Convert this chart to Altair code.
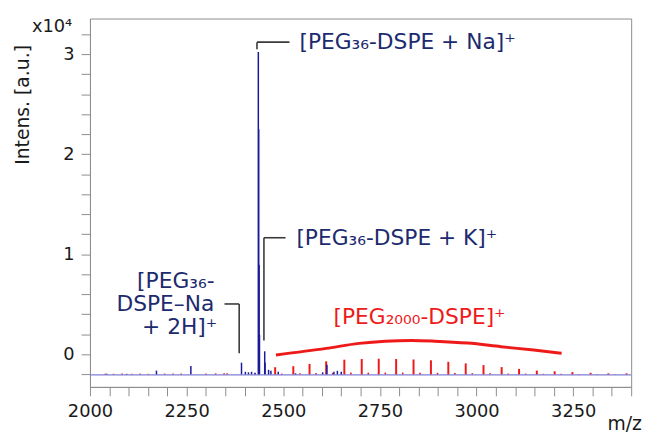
import altair as alt
import pandas as pd

FONT = "DejaVu Sans"
NAVY = "#1c2a6e"
RED = "#ee1a1a"
BLUE = "#1a1a9a"
BASELINE = -0.205

# PEG2000-DSPE distribution (red), m/z and peak height above baseline (x10^4)
red_mz = [2479, 2526, 2568, 2611, 2658, 2703, 2747, 2792, 2837, 2882, 2927,
          2972, 3018, 3065, 3110, 3156, 3202, 3248, 3295, 3341, 3388]
red_h = [0.076, 0.086, 0.109, 0.135, 0.151, 0.158, 0.161, 0.158, 0.153, 0.145, 0.130,
         0.114, 0.097, 0.077, 0.059, 0.042, 0.035, 0.027, 0.020, 0.015, 0.015]
# small satellite peaks of the red series
red_sat_mz = [2496, 2543, 2585, 2628, 2675, 2720, 2764, 2809, 2854, 2899, 2944,
              2989, 3035, 3082, 3127, 3173, 3219, 3265, 3312, 3358]
red_sat_h = [0.012, 0.015, 0.018, 0.020, 0.022, 0.022, 0.022, 0.022, 0.020, 0.020, 0.018,
             0.016, 0.015, 0.013, 0.012, 0.010, 0.010, 0.008, 0.008, 0.006]
red_small_mz = [2040, 2061, 2083, 2108, 2130, 2151, 2193, 2215, 2236, 2300, 2325, 2347, 2355, 2427]
red_small_h = [0.012, 0.010, 0.014, 0.010, 0.012, 0.010, 0.012, 0.014, 0.012, 0.012, 0.014, 0.016, 0.015, 0.012]

# PEG36-DSPE (blue)
blue_mz = [2044, 2095, 2172, 2261, 2392, 2402, 2410, 2418, 2427,
           2435.5, 2436.5, 2437.5, 2438.5, 2452, 2453, 2462, 2468, 2487,
           2532, 2602, 2613, 2631, 2640, 2650]
blue_h = [0.010, 0.010, 0.042, 0.089, 0.121, 0.030, 0.025, 0.030, 0.020,
          3.226, 2.455, 1.100, 0.400, 0.235, 0.120, 0.050, 0.040, 0.030,
          0.015, 0.025, 0.100, 0.030, 0.040, 0.030]

# envelope of the PEG2000 distribution
env_mz = [2481, 2611, 2696, 2764, 2832, 2892, 2977, 3063, 3148, 3220]
env_v = [-0.007, 0.059, 0.109, 0.131, 0.138, 0.131, 0.112, 0.076, 0.042, 0.010]

# annotation brackets
br_x = [2432, 2432, 2450, 2450, 2348, 2386]
br_x2 = [2516, 2432, 2506, 2450, 2386, 2386]
br_y = [3.12, 3.12, 1.165, 1.165, 0.503, 0.503]
br_y2 = [3.12, 3.05, 1.165, 0.138, 0.503, 0.010]

# annotation texts
lab_text = ["[PEG₃₆-DSPE + Na]⁺", "[PEG₃₆-DSPE + K]⁺", "[PEG₃₆-", "DSPE–Na", "+ 2H]⁺"]
lab_mz = [2542, 2534, 2222, 2195, 2232]
lab_v = [3.12, 1.162, 0.733, 0.503, 0.276]
lab_align = ["left", "left", "center", "center", "center"]

red_lab_text = ["[PEG₂₀₀₀-DSPE]⁺"]
red_lab_mz = [2630]
red_lab_v = [0.375]

x_ticks = list(range(2000, 3401, 50))
y_ticks = [-0.2, 0.0, 0.2, 0.4, 0.6, 0.8, 1.0, 1.2, 1.4, 1.6, 1.8, 2.0,
           2.2, 2.4, 2.6, 2.8, 3.0, 3.2]

xs = alt.Scale(domain=[2000, 3400], nice=False, zero=False)
ys = alt.Scale(domain=[-0.326, 3.356], nice=False, zero=False)

x_axis = alt.Axis(values=x_ticks, format="d",
                  labelExpr="datum.value % 250 == 0 ? datum.label : ''",
                  title="m/z", titleX=541, titleY=43, titleAlign="center",
                  titleBaseline="alphabetic", titleFontSize=19, titleFontWeight="normal",
                  labelOverlap=False, labelFlush=False, labelPadding=7)
y_axis = alt.Axis(values=y_ticks,
                  labelExpr="abs(datum.value - round(datum.value)) < 0.001 ? format(datum.value, 'd') : ''",
                  title="Intens. [a.u.]", titleX=-68, titleY=87, titleAngle=-90,
                  titleAlign="center", titleBaseline="middle", titleFontSize=19,
                  titleFontWeight="normal", labelOverlap=False, labelFlush=False,
                  labelPadding=7)


def X(field):
    return alt.X(field, type="quantitative", scale=xs, axis=x_axis)


def Y(field):
    return alt.Y(field, type="quantitative", scale=ys, axis=y_axis)


def peaks(mz, h):
    return pd.DataFrame({"mz": mz, "top": [BASELINE + v for v in h], "base": [BASELINE] * len(mz)})


def stick_layer(df, color, width):
    return alt.Chart(df).mark_rule(color=color, strokeWidth=width).encode(
        x=X("mz"), y=Y("base"), y2="top:Q")


red_layer = stick_layer(peaks(red_mz, red_h), RED, 2.0)
red_sat_layer = stick_layer(peaks(red_sat_mz, red_sat_h), RED, 1.6)
red_small_layer = stick_layer(peaks(red_small_mz, red_small_h), RED, 1.6)
blue_layer = stick_layer(peaks(blue_mz, blue_h), BLUE, 1.5)

base_df = pd.DataFrame({"x": [2000], "x2": [3400], "y": [BASELINE]})
base_layer = alt.Chart(base_df).mark_rule(color="#7f7fd4", strokeWidth=1.2).encode(
    x=X("x"), x2="x2:Q", y=Y("y"))

env_df = pd.DataFrame({"mz": env_mz, "v": env_v})
env_layer = alt.Chart(env_df).mark_line(color=RED, strokeWidth=3, interpolate="monotone").encode(
    x=X("mz"), y=Y("v"))

br_df = pd.DataFrame({"x": br_x, "x2": br_x2, "y": br_y, "y2": br_y2})
br_layer = alt.Chart(br_df).mark_rule(color="#3a3a3a", strokeWidth=1.6).encode(
    x=X("x"), x2="x2:Q", y=Y("y"), y2="y2:Q")

lab_layers = []
for t, m, v, a in zip(lab_text, lab_mz, lab_v, lab_align):
    d = pd.DataFrame({"t": [t], "mz": [m], "v": [v]})
    lab_layers.append(alt.Chart(d).mark_text(font=FONT, fontSize=22, color=NAVY,
                                             align=a, baseline="middle").encode(
        x=X("mz"), y=Y("v"), text="t:N"))

red_lab_df = pd.DataFrame({"t": red_lab_text, "mz": red_lab_mz, "v": red_lab_v})
red_lab_layer = alt.Chart(red_lab_df).mark_text(font=FONT, fontSize=22, color=RED,
                                                align="left", baseline="middle").encode(
    x=X("mz"), y=Y("v"), text="t:N")

exp_df = pd.DataFrame({"t": ["x10⁴"], "mz": [2000], "v": [3.27]})
exp_layer = alt.Chart(exp_df).mark_text(font=FONT, fontSize=18, color="#1a1a1a",
                                        align="right", baseline="middle", dx=-18).encode(
    x=X("mz"), y=Y("v"), text="t:N")

chart = alt.layer(
    red_small_layer, red_layer, red_sat_layer, blue_layer, base_layer,
    env_layer, br_layer, *lab_layers, red_lab_layer, exp_layer
).properties(
    width=548, height=373,
    padding={"left": 83, "top": 8, "right": 14, "bottom": 44},
    autosize=alt.AutoSizeParams(type="none"),
    background="white",
).configure_view(
    stroke="#8c8c8c", strokeWidth=1
).configure_axis(
    grid=False, domainColor="#8c8c8c", tickColor="#8c8c8c", tickSize=9,
    labelFont=FONT, labelFontSize=18, labelColor="#1a1a1a",
    titleFont=FONT, titleColor="#1a1a1a",
)

chart.save("out.html", embed_options={"renderer": "svg", "actions": False})
